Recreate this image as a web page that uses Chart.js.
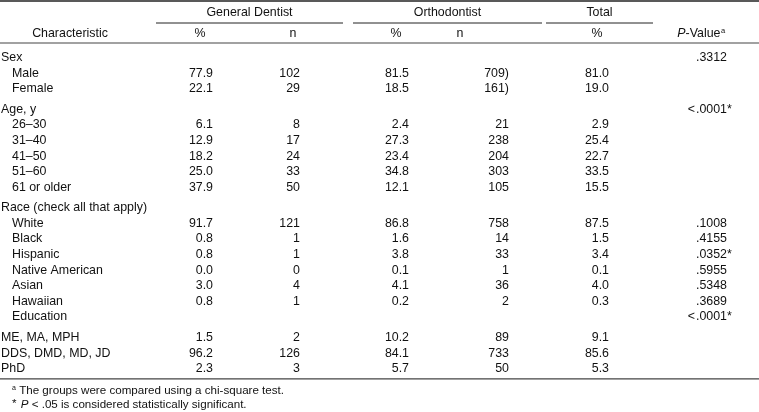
<!DOCTYPE html>
<html>
<head>
<meta charset="utf-8">
<script src="https://cdn.jsdelivr.net/npm/chart.js@4"></script>
<style>
  html, body { margin: 0; padding: 0; background: #fff; }
</style>
</head>
<body>
<canvas id="myChart" width="759" height="412"></canvas>
<script>
// Tabel karakteristik responden
const characteristics = ['Sex', 'Male', 'Female', 'Age, y', '26–30', '31–40', '41–50', '51–60', '61 or older',
  'Race (check all that apply)', 'White', 'Black', 'Hispanic', 'Native American', 'Asian', 'Hawaiian', 'Education',
  'ME, MA, MPH', 'DDS, DMD, MD, JD', 'PhD'];
const gdPct = [null, 77.9, 22.1, null, 6.1, 12.9, 18.2, 25.0, 37.9, null, 91.7, 0.8, 0.8, 0.0, 3.0, 0.8, null, 1.5, 96.2, 2.3];
const gdN = [null, 102, 29, null, 8, 17, 24, 33, 50, null, 121, 1, 1, 0, 4, 1, null, 2, 126, 3];
const orPct = [null, 81.5, 18.5, null, 2.4, 27.3, 23.4, 34.8, 12.1, null, 86.8, 1.6, 3.8, 0.1, 4.1, 0.2, null, 10.2, 84.1, 5.7];
const orN = [null, '709)', '161)', null, 21, 238, 204, 303, 105, null, 758, 14, 33, 1, 36, 2, null, 89, 733, 50];
const totalPct = [null, 81.0, 19.0, null, 2.9, 25.4, 22.7, 33.5, 15.5, null, 87.5, 1.5, 3.4, 0.1, 4.0, 0.3, null, 9.1, 85.6, 5.3];
const pValues = ['.3312', null, null, '<.0001*', null, null, null, null, null, null,
  '.1008', '.4155', '.0352*', '.5955', '.5348', '.3689', '<.0001*', null, null, null];

const groupLabels = ['General Dentist', 'Orthodontist', 'Total'];
const subLabels = ['%', 'n', '%', 'n', '%'];

// baris tanpa indent & baris yang diberi jarak di atasnya
const flushRows = ['Sex', 'Age, y', 'Race (check all that apply)', 'ME, MA, MPH', 'DDS, DMD, MD, JD', 'PhD'];
const gapBefore = ['Age, y', 'Race (check all that apply)', 'ME, MA, MPH'];
const gap = 0.31; // jarak antar kelompok (satuan baris)

// posisi kolom (piksel sumbu x)
const colRight = [213, 300, 409, 509, 609];
const subCenter = [200, 293, 396, 460, 597];
const groupSpan = [[156, 343], [353, 542], [546, 653]];
const pDot = 696;

const FONT = '"Liberation Sans", Arial, Helvetica, sans-serif';
const SIZE = 12.4;
const NOTE_SIZE = 11.6;

// posisi baris dalam satuan baris
const rowPos = [];
let extra = 0;
characteristics.forEach(function (c, i) {
  if (gapBefore.indexOf(c) >= 0) extra += gap;
  rowPos.push(i + extra);
});

function fmt1(v) { return v === null ? null : v.toFixed(1); }

const tablePlugin = {
  id: 'tablePlugin',
  afterDraw: function (chart) {
    const ctx = chart.ctx;
    const xs = chart.scales.x;
    const ys = chart.scales.y;
    const X = function (v) { return xs.getPixelForValue(v); };
    const Y = function (v) { return ys.getPixelForValue(v); };
    const last = rowPos[rowPos.length - 1];

    ctx.save();
    ctx.fillStyle = '#111';
    ctx.textBaseline = 'middle';

    function text(s, x, y, align, style, size) {
      ctx.font = (style || '') + ' ' + (size || SIZE) + 'px ' + FONT;
      ctx.textAlign = align || 'left';
      ctx.fillText(s, x, y);
    }
    function width(s, style, size) {
      ctx.font = (style || '') + ' ' + (size || SIZE) + 'px ' + FONT;
      return ctx.measureText(s).width;
    }
    function hline(x1, x2, y, w, color) {
      ctx.beginPath();
      ctx.strokeStyle = color;
      ctx.lineWidth = w;
      ctx.moveTo(x1, y);
      ctx.lineTo(x2, y);
      ctx.stroke();
    }

    // garis tabel
    hline(X(0), X(759), Y(-3.64), 1.5, '#222');
    groupSpan.forEach(function (s) { hline(X(s[0]), X(s[1]), Y(-2.23), 1, '#222'); });
    hline(X(0), X(759), Y(-0.95), 1.2, '#444');
    hline(X(0), X(759), Y(last + 0.65), 1.2, '#444');

    // header
    groupLabels.forEach(function (g, i) {
      text(g, X((groupSpan[i][0] + groupSpan[i][1]) / 2), Y(-2.87), 'center');
    });
    text('Characteristic', X(70), Y(-1.56), 'center');
    subLabels.forEach(function (s, i) { text(s, X(subCenter[i]), Y(-1.56), 'center'); });

    // P-Value^a
    const wP = width('P', 'italic');
    const wV = width('-Value');
    const wA = width('a', '', 7.5);
    let px = X(701) - (wP + wV + wA) / 2;
    text('P', px, Y(-1.56), 'left', 'italic');
    text('-Value', px + wP, Y(-1.56));
    text('a', px + wP + wV + 0.5, Y(-1.56) - 3, 'left', '', 7.5);

    // isi tabel
    characteristics.forEach(function (c, i) {
      const y = Y(rowPos[i]);
      const indent = flushRows.indexOf(c) >= 0 ? 1 : 12;
      text(c, X(indent), y);
      const cells = [fmt1(gdPct[i]), gdN[i], fmt1(orPct[i]), orN[i], fmt1(totalPct[i])];
      cells.forEach(function (v, j) {
        if (v !== null) text(String(v), X(colRight[j]), y, 'right');
      });
      const p = pValues[i];
      if (p) {
        if (p.charAt(0) === '<') {
          text('<', X(pDot) - 1, y, 'right');
          text(p.slice(1), X(pDot), y);
        } else {
          text(p, X(pDot), y);
        }
      }
    });

    // catatan kaki
    const f1 = Y(last + 1.42);
    const f2 = Y(last + 2.32);
    const wNP = width('P', 'italic', NOTE_SIZE);
    const wS = width('* ', '', NOTE_SIZE);
    text('a', X(12), f1 - 3, 'left', '', 7);
    text('The groups were compared using a chi-square test.', X(12) + wA + 3, f1, 'left', '', NOTE_SIZE);
    text('*', X(12), f2 - 1, 'left', '', NOTE_SIZE);
    text('P', X(12) + wS + 1, f2, 'left', 'italic', NOTE_SIZE);
    text(' < .05 is considered statistically significant.', X(12) + wS + 1 + wNP, f2, 'left', '', NOTE_SIZE);

    ctx.restore();
  }
};

var ctx = document.getElementById('myChart').getContext('2d');

var myChart = new Chart(ctx, {
  type: 'scatter',
  data: {
    labels: characteristics,
    datasets: [{
      label: 'rows',
      data: rowPos.map(function (p) { return { x: 0, y: p }; }),
      pointRadius: 0
    }]
  },
  options: {
    responsive: false,
    animation: false,
    layout: { padding: 0 },
    plugins: { legend: { display: false }, tooltip: { enabled: false } },
    scales: {
      x: { type: 'linear', min: 0, max: 759, display: false },
      y: { type: 'linear', min: -3.705, max: 22.705, reverse: true, display: false }
    }
  },
  plugins: [tablePlugin]
});
</script>
</body>
</html>
